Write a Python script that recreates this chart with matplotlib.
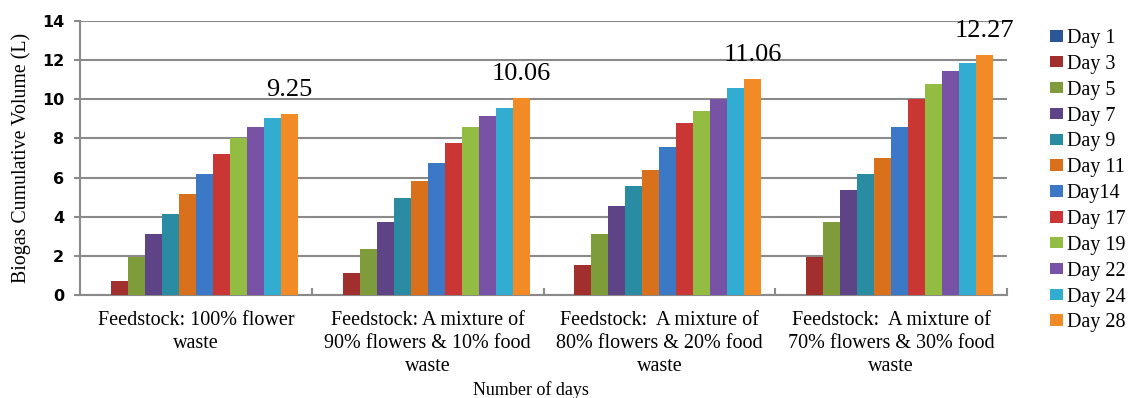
import numpy as np
import matplotlib
matplotlib.use("Agg")
from matplotlib import pyplot as plt
from matplotlib.patches import Patch

plt.rcParams["font.family"] = ["Liberation Serif", "DejaVu Serif"]

categories = [
    "Feedstock: 100% flower\nwaste",
    "Feedstock: A mixture of\n90% flowers & 10% food\nwaste",
    "Feedstock:  A mixture of\n80% flowers & 20% food\nwaste",
    "Feedstock:  A mixture of\n70% flowers & 30% food\nwaste",
]
days = ["Day 1", "Day 3", "Day 5", "Day 7", "Day 9", "Day 11",
        "Day14", "Day 17", "Day 19", "Day 22", "Day 24", "Day 28"]

# cumulative biogas (L), one list per feedstock, one value per day
flower_100 = [0, 0.72, 1.96, 3.12, 4.15, 5.16, 6.18, 7.19, 8.0, 8.6, 9.03, 9.25]
flower_90 = [0, 1.11, 2.33, 3.74, 4.97, 5.82, 6.77, 7.78, 8.57, 9.17, 9.58, 10.06]
flower_80 = [0, 1.53, 3.10, 4.54, 5.55, 6.39, 7.58, 8.80, 9.40, 10.0, 10.6, 11.06]
flower_70 = [0, 1.94, 3.74, 5.37, 6.17, 7.02, 8.58, 10.03, 10.8, 11.45, 11.84, 12.27]

colors = ["#2B5797", "#A02F2D", "#7E9D3A", "#5E4487", "#2A8CA3", "#D9711C",
          "#3B78C6", "#C93634", "#93BC43", "#7853A5", "#33ACD2", "#F28A26"]

data = np.array([flower_100, flower_90, flower_80, flower_70])

fig = plt.figure(figsize=(11.28, 3.98), dpi=100)
ax = fig.add_axes([0.0709, 0.2588, 0.8219, 0.6882])

n = len(days)
width = 0.0733
x = np.arange(len(categories))
for i in range(n):
    offs = (i - (n - 1) / 2) * width
    ax.bar(x + offs, data[:, i], width, color=colors[i], zorder=3, label=days[i])

# final-day totals above the last bar of each group
last_off = ((n - 1) - (n - 1) / 2) * width
for j in range(len(categories)):
    ax.annotate(f"{data[j, -1]:.2f}", (x[j] + last_off, data[j, -1]),
                xytext=(0, 13), textcoords="offset points",
                ha="center", va="baseline", fontsize=19)

ax.set_xlim(-0.5, 3.5)
ax.set_ylim(0, 14)
ax.set_yticks(range(0, 15, 2))
ax.yaxis.grid(True, color="#8a8a8a", linewidth=1.5, zorder=0)
ax.set_axisbelow(True)

for s in ["top", "right"]:
    ax.spines[s].set_visible(False)
for s in ["left", "bottom"]:
    ax.spines[s].set_color("#8a8a8a")
    ax.spines[s].set_linewidth(1.5)

ax.tick_params(axis="y", length=4.5, width=1.5, color="#8a8a8a", pad=7)

ax.set_xticks(x)
ax.set_xticks([0.5, 1.5, 2.5, 3.5], minor=True)
ax.tick_params(axis="x", which="major", length=0, pad=11.5)
ax.tick_params(axis="x", which="minor", direction="in", length=5,
               width=1.5, color="#8a8a8a")
ax.set_xticklabels(categories, fontsize=14.5, linespacing=1.3)

for lab in ax.get_yticklabels():
    lab.set_fontweight("bold")
    lab.set_fontsize(11.5)
    lab.set_family("DejaVu Sans")

ax.set_ylabel("Biogas Cumulative Volume (L)", fontsize=14.3, labelpad=8)
fig.text(0.471, 0.021, "Number of days", ha="center", va="center", fontsize=13)

handles = [Patch(facecolor=c, label=d) for c, d in zip(colors, days)]
fig.legend(handles=handles, loc="upper left", bbox_to_anchor=(0.9309, 0.927),
           frameon=False, prop={"size": 14.5}, borderpad=0,
           handlelength=0.62, handleheight=0.5, handletextpad=0.2,
           labelspacing=0.34, borderaxespad=0)

fig.savefig("out.png", dpi=100)
